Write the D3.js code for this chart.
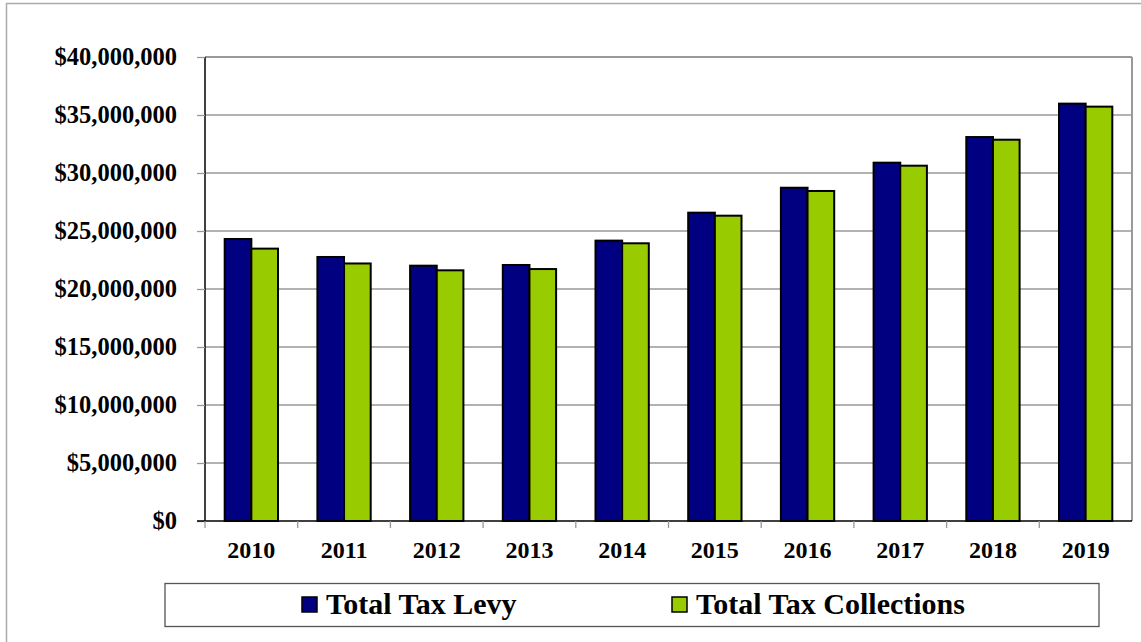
<!DOCTYPE html>
<html>
<head>
<meta charset="utf-8">
<script src="https://cdn.jsdelivr.net/npm/d3@7"></script>
<style>
  body { margin: 0; background: #fff; }
  text { font-family: "Liberation Serif", "Times New Roman", serif; font-weight: bold; fill: #000; }
</style>
</head>
<body>
<div id="chart"></div>
<script>
// chart data
var years = ["2010", "2011", "2012", "2013", "2014", "2015", "2016", "2017", "2018", "2019"];
var levy = [24310000, 22760000, 22010000, 22070000, 24170000, 26580000, 28730000, 30890000, 33100000, 35980000];
var collections = [23480000, 22200000, 21610000, 21720000, 23940000, 26320000, 28450000, 30630000, 32870000, 35720000];
var seriesNames = ["Total Tax Levy", "Total Tax Collections"];
var seriesColors = ["#000080", "#99cc00"];
var yTicks = [0, 5000000, 10000000, 15000000, 20000000, 25000000, 30000000, 35000000, 40000000];

var svgWidth = 1141;
var svgHeight = 642;

var margin = { top: 57, right: 9, bottom: 121, left: 205 };
var width = svgWidth - margin.left - margin.right;
var height = svgHeight - margin.top - margin.bottom;

var svg = d3.select("#chart")
  .append("svg")
  .attr("width", svgWidth)
  .attr("height", svgHeight);

// outer frame of the chart area
svg.append("path")
  .attr("d", "M6.5,650 V3.5 H1150")
  .attr("fill", "none")
  .attr("stroke", "#aaa")
  .attr("stroke-width", 1.5);

var chartGroup = svg.append("g")
  .attr("transform", `translate(${margin.left}, ${margin.top})`);

// scales
var x0 = d3.scaleBand()
  .domain(years)
  .range([0, width]);

var groupWidth = x0.bandwidth() * 0.575;

var x1 = d3.scaleBand()
  .domain(seriesNames)
  .range([0, groupWidth]);

var yScale = d3.scaleLinear()
  .domain([0, 40000000])
  .range([height, 0]);

// gridlines
chartGroup.append("g")
  .selectAll("line")
  .data(yTicks.slice(1))
  .enter()
  .append("line")
  .attr("x1", 0)
  .attr("x2", width)
  .attr("y1", d => yScale(d))
  .attr("y2", d => yScale(d))
  .attr("stroke", "#999")
  .attr("stroke-width", d => d === 40000000 ? 2 : 1.3);

// right side of the plot frame
chartGroup.append("line")
  .attr("x1", width)
  .attr("x2", width)
  .attr("y1", 0)
  .attr("y2", height)
  .attr("stroke", "#999")
  .attr("stroke-width", 2);

// bars
var rows = years.map((y, i) => ({ year: y, values: [levy[i], collections[i]] }));

var groups = chartGroup.selectAll(".year")
  .data(rows)
  .enter()
  .append("g")
  .attr("transform", d => `translate(${x0(d.year) + (x0.bandwidth() - groupWidth) / 2}, 0)`);

groups.selectAll("rect")
  .data(d => d.values.map((v, k) => ({ name: seriesNames[k], value: v, color: seriesColors[k] })))
  .enter()
  .append("rect")
  .attr("x", d => x1(d.name))
  .attr("y", d => yScale(d.value))
  .attr("width", x1.bandwidth())
  .attr("height", d => height - yScale(d.value))
  .attr("fill", d => d.color)
  .attr("stroke", "#000")
  .attr("stroke-width", 2);

// axes
var leftAxis = d3.axisLeft(yScale)
  .tickValues(yTicks)
  .tickSize(8)
  .tickPadding(20)
  .tickFormat(d => "$" + d3.format(",")(d));

var bottomAxis = d3.axisBottom(x0)
  .tickSize(0)
  .tickPadding(20);

var yAxisG = chartGroup.append("g")
  .call(leftAxis);
yAxisG.select(".domain").attr("stroke", "#000").attr("stroke-width", 1.5).attr("d", `M0,0V${height}`);
yAxisG.selectAll(".tick line").attr("stroke", "#999").attr("stroke-width", 1.3);
yAxisG.selectAll("text")
  .attr("font-size", "24.5px")
  .attr("font-family", "'Liberation Serif', 'Times New Roman', serif")
  .attr("font-weight", "bold")
  .attr("fill", "#000");

var xAxisG = chartGroup.append("g")
  .attr("transform", `translate(0, ${height})`)
  .call(bottomAxis);
xAxisG.select(".domain").attr("stroke", "#000").attr("stroke-width", 1.5).attr("d", `M-8,0H${width}`);
xAxisG.selectAll("text")
  .attr("font-size", "24px")
  .attr("font-family", "'Liberation Serif', 'Times New Roman', serif")
  .attr("font-weight", "bold")
  .attr("fill", "#000");

// category tick marks between groups
chartGroup.append("g")
  .selectAll("line")
  .data(years)
  .enter()
  .append("line")
  .attr("x1", d => x0(d))
  .attr("x2", d => x0(d))
  .attr("y1", height)
  .attr("y2", height + 7)
  .attr("stroke", "#999")
  .attr("stroke-width", 1.3);

// legend
var legend = svg.append("g");

legend.append("rect")
  .attr("x", 165)
  .attr("y", 583.5)
  .attr("width", 934)
  .attr("height", 43)
  .attr("fill", "#fff")
  .attr("stroke", "#555")
  .attr("stroke-width", 1.3);

var legendX = [302, 672];

var items = legend.selectAll(".item")
  .data(seriesNames)
  .enter()
  .append("g")
  .attr("transform", (d, i) => `translate(${legendX[i]}, 597)`);

items.append("rect")
  .attr("width", 15)
  .attr("height", 15)
  .attr("fill", (d, i) => seriesColors[i])
  .attr("stroke", "#000")
  .attr("stroke-width", 1.5);

items.append("text")
  .attr("x", 24)
  .attr("y", 17)
  .attr("font-size", "30px")
  .text(d => d);
</script>
</body>
</html>
